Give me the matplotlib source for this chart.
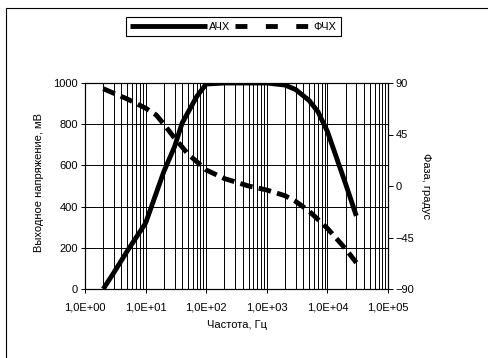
import matplotlib
matplotlib.use('Agg')
import matplotlib.pyplot as plt
from matplotlib.lines import Line2D
from matplotlib.patches import Rectangle
from matplotlib.ticker import FixedLocator, LogLocator, NullFormatter

plt.rcParams['font.family'] = ['Liberation Sans', 'DejaVu Sans']

# ---- data ----
freq_amp = [2, 3, 5, 10, 20, 30, 40, 70, 100, 200, 500, 1000, 2000, 3000,
            5000, 7000, 10000, 20000, 30000]
amp_mv = [0, 80, 185, 320, 570, 690, 805, 935, 995, 1000, 1000, 1000, 990,
          968, 915, 860, 765, 510, 355]

freq_phase = [2, 5, 10, 15, 20, 30, 50, 100, 200, 500, 1000, 2000, 3000,
              5000, 10000, 20000, 30000]
phase_deg = [85, 76, 68, 62, 54, 42, 28, 14, 6.5, 0, -3.5, -8.5, -13.5,
             -22, -37, -55, -67]

x_ticks = [1, 10, 100, 1000, 10000, 100000]
x_tick_labels = ['1,0E+00', '1,0E+01', '1,0E+02', '1,0E+03', '1,0E+04', '1,0E+05']
amp_ticks = [0, 200, 400, 600, 800, 1000]
phase_ticks = [-90, -45, 0, 45, 90]

series_names = ['АЧХ', 'ФЧХ']
x_label = 'Частота, Гц'
y_label = 'Выходное напряжение, мВ'
y2_label = 'Фаза, градус'

FS = 8

# ---- figure ----
W, H = 489, 358
fig = plt.figure(figsize=(W / 100, H / 100), dpi=100)
fig.patches.append(Rectangle((6 / W, -0.1), 1.2, (H - 8) / H + 0.1,
                             transform=fig.transFigure, fill=False,
                             ec='black', lw=0.8))

ax = fig.add_axes([85 / W, (H - 289) / H, (388 - 85) / W, (289 - 83) / H])
ax.set_xscale('log')
ax.set_xlim(1, 1e5)
ax.set_ylim(0, 1000)
ax.xaxis.set_major_locator(FixedLocator(x_ticks))
ax.set_xticklabels(x_tick_labels)
ax.xaxis.set_minor_locator(LogLocator(base=10, subs=range(2, 10)))
ax.xaxis.set_minor_formatter(NullFormatter())
ax.set_yticks(amp_ticks)
ax.tick_params(axis='x', which='minor', length=0)
ax.tick_params(axis='x', which='major', direction='out', length=3, width=0.7,
               pad=6.5, labelsize=FS)
ax.tick_params(axis='y', direction='out', length=3, width=0.7, pad=2,
               labelsize=FS)
ax.grid(True, which='both', axis='x', color='black', lw=0.7)
ax.grid(True, which='major', axis='y', color='black', lw=0.7)
ax.set_axisbelow(True)
for s in ax.spines.values():
    s.set_linewidth(0.8)

ax2 = ax.twinx()
ax2.set_ylim(-90, 90)
ax2.set_yticks(phase_ticks)
ax2.tick_params(axis='y', direction='out', length=3.5, width=0.7, pad=2,
                labelsize=FS)
for s in ax2.spines.values():
    s.set_linewidth(0.8)

ax.plot(freq_amp, amp_mv, color='black', lw=3.5, solid_joinstyle='round',
        solid_capstyle='butt', zorder=3)
ax2.plot(freq_phase, phase_deg, color='black', lw=3.5, dashes=(2.6, 1.3),
         dash_joinstyle='round', dash_capstyle='butt', zorder=3)

fig.text(39 / W, (H - 183) / H, y_label, rotation=90, ha='center',
         va='center', fontsize=FS)
fig.text(426 / W, (H - 186) / H, y2_label, rotation=270, ha='center',
         va='center', fontsize=FS)
fig.text(237 / W, (H - 325) / H, x_label, ha='center', va='center',
         fontsize=FS)

h1 = Line2D([], [], color='black', lw=3.5, solid_capstyle='butt')
h2 = Line2D([], [], color='black', lw=3.5, dashes=(2.45, 3.8),
            dash_capstyle='butt')
leg = fig.legend([h1, h2], series_names, ncol=2, loc='center',
                 bbox_to_anchor=(233.5 / W, (H - 26.5) / H), fontsize=FS,
                 handlelength=6.9, handletextpad=0.15, columnspacing=0.5,
                 borderpad=0.4, fancybox=False, framealpha=1,
                 edgecolor='black')
leg.get_frame().set_linewidth(0.8)

fig.savefig('out.png', dpi=100)
